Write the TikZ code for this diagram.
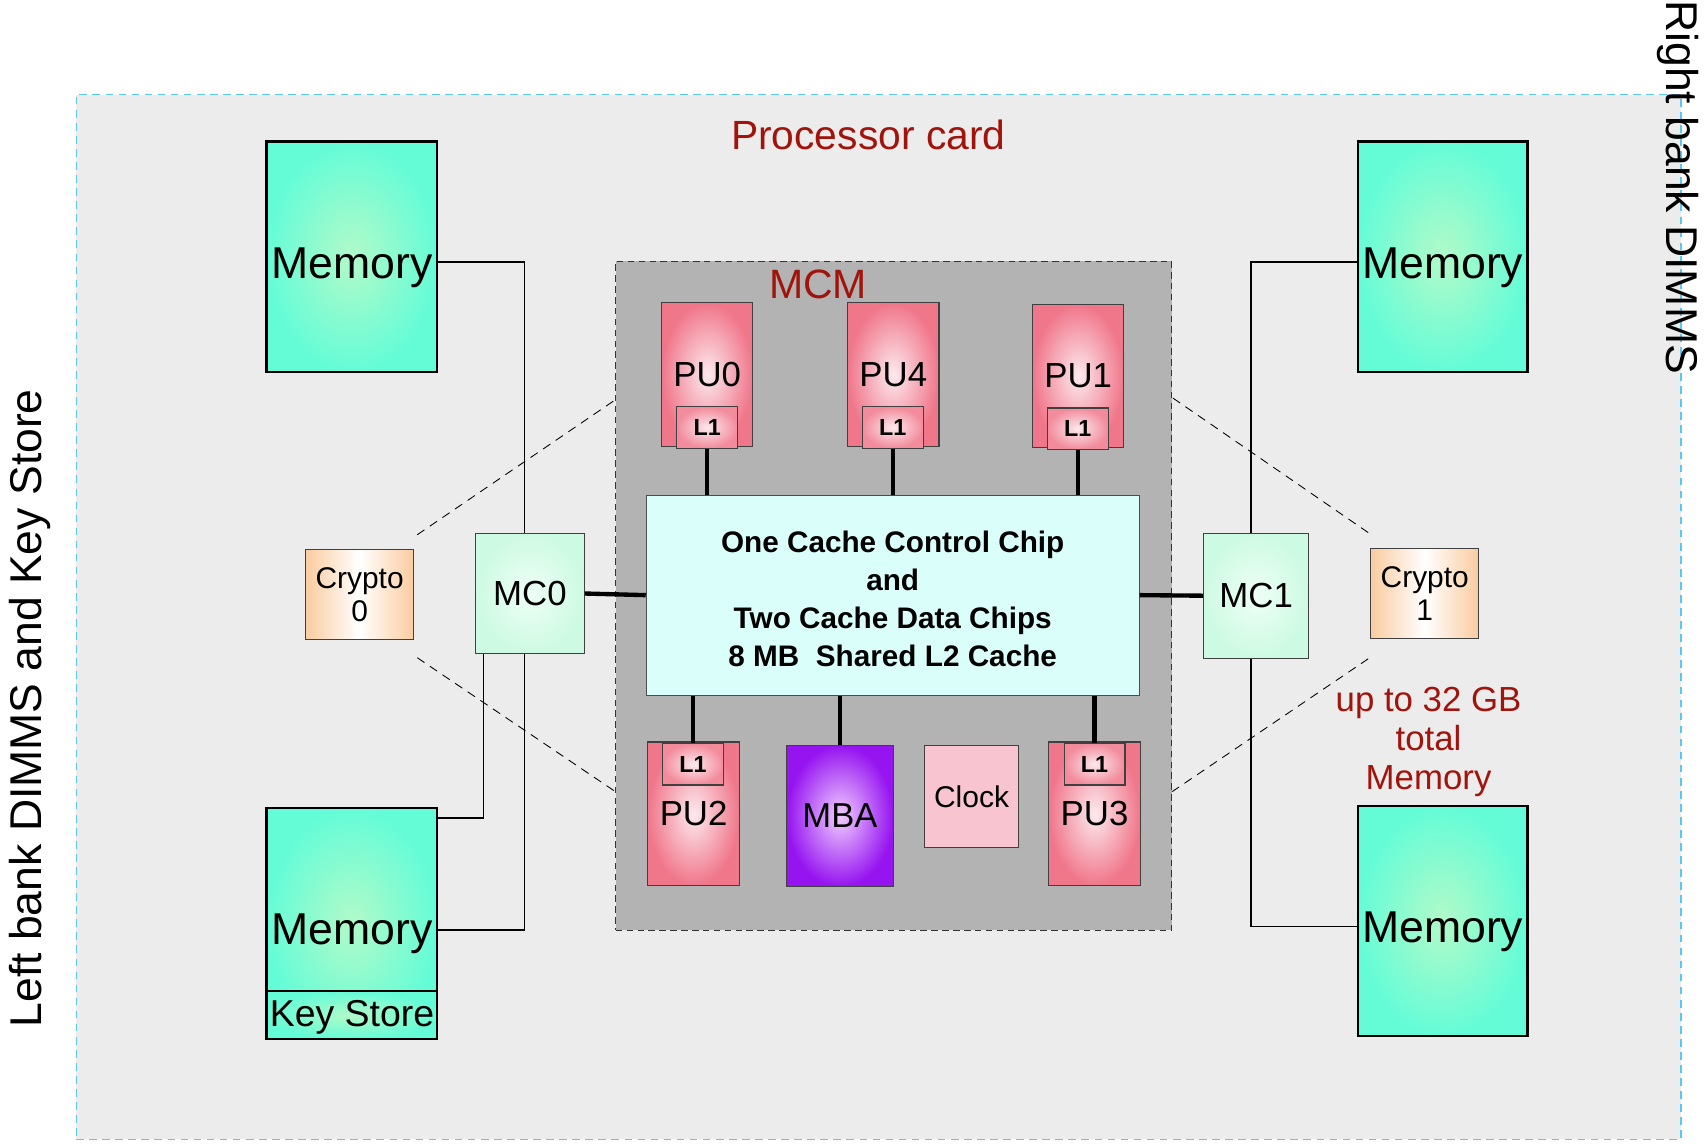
\documentclass[tikz,border=0pt]{standalone}
\usepackage{fontspec}
\setmainfont{Liberation Sans}

\definecolor{cardred}{RGB}{160,20,12}
\definecolor{cardbg}{RGB}{236,236,236}
\definecolor{cardedge}{RGB}{90,200,245}
\definecolor{mcmgray}{RGB}{179,179,179}
\definecolor{memin}{RGB}{178,250,200}
\definecolor{memout}{RGB}{100,252,215}
\definecolor{puin}{RGB}{252,234,238}
\definecolor{puout}{RGB}{240,118,138}
\definecolor{mbain}{RGB}{240,205,255}
\definecolor{mbaout}{RGB}{150,20,240}
\definecolor{peach}{RGB}{250,204,160}
\definecolor{mcin}{RGB}{238,255,246}
\definecolor{mcout}{RGB}{205,250,226}
\definecolor{cachefill}{RGB}{218,255,250}
\definecolor{clockfill}{RGB}{248,196,208}

\tikzset{
  box/.style={draw=black!75, line width=1pt, inner sep=0pt, align=center},
  memtext/.style={font=\fontsize{41}{45}\selectfont, text height=45pt, text depth=5.6pt},
  memory/.style={box, draw=black, line width=2pt, inner color=memin, outer color=memout,
    minimum width=157pt, memtext},
  pu/.style={box, inner color=puin, outer color=puout, minimum width=84pt,
    minimum height=132pt, font=\fontsize{32}{36}\selectfont},
  l1box/.style={box, inner color=puin, outer color=puout!85, minimum width=56pt,
    minimum height=38pt, font=\bfseries\fontsize{21.4}{24}\selectfont},
  mc/.style={box, inner color=mcin, outer color=mcout, font=\fontsize{32}{36}\selectfont},
  crypto/.style={box, left color=peach, right color=peach, middle color=white,
    minimum width=99pt, minimum height=83pt, font=\fontsize{27.5}{31}\selectfont},
  redtext/.style={text=cardred, align=center},
  wire/.style={line width=1.6pt},
  bus/.style={line width=4pt},
  zoomline/.style={line width=0.8pt, dash pattern=on 8pt off 6pt},
}

\begin{document}
\begin{tikzpicture}[x=1pt, y=-1pt]
    \useasboundingbox (0,0) rectangle (1568,1051);

    % --- PROCESSOR CARD ---
    \node[draw=cardedge, line width=1pt, dash pattern=on 7pt off 5pt, fill=cardbg,
          minimum width=1475pt, minimum height=960pt] (card) at (807.5,567) {};
    \node[redtext, font=\fontsize{37.5}{40}\selectfont] (cardlbl) at (798,124) {Processor card};

    % --- MCM ---
    \node[draw=black!80, line width=1pt, dash pattern=on 6pt off 4pt, fill=mcmgray,
          minimum width=511pt, minimum height=615pt] (mcm) at (821.5,547.5) {};
    \node[redtext, font=\fontsize{37.7}{40}\selectfont] (mcmlbl) at (752,261) {MCM};

    % top row of processor units
    \node[pu] (pu0) at (650,344) {PU0};
    \node[pu] (pu4) at (821,344) {PU4};
    \node[pu] (pu1) at (991,345.5) {PU1};
    \node[l1box] (pu0l1) at (650,393) {L1};
    \node[l1box] (pu4l1) at (820.5,393) {L1};
    \node[l1box] (pu1l1) at (990.5,394) {L1};

    % shared cache
    \node[box, draw=black!70, fill=cachefill, minimum width=453pt, minimum height=184pt,
          font=\bfseries\fontsize{27.3}{35}\selectfont] (cache) at (820.5,547)
          {\\[-9pt]One Cache Control Chip\\and\\Two Cache Data Chips\\8 MB\ \ Shared L2 Cache};

    % bottom row
    \node[pu] (pu2) at (637.5,748) {PU2};
    \node[pu] (pu3) at (1006,748) {PU3};
    \node[l1box] (pu2l1) at (637,702.5) {L1};
    \node[l1box] (pu3l1) at (1006,702.5) {L1};
    \node[box, inner color=mbain, outer color=mbaout, minimum width=98pt, minimum height=130pt,
          font=\fontsize{31.8}{36}\selectfont] (mba) at (772,750) {MBA};
    \node[box, fill=clockfill, minimum width=86pt, minimum height=94pt,
          font=\fontsize{27.6}{31}\selectfont] (clock) at (893,732) {Clock};

    % --- MEMORY CONTROLLERS AND CRYPTO ---
    \node[mc, minimum width=100pt, minimum height=111pt] (mc0) at (487,545.5) {MC0};
    \node[mc, minimum width=97pt, minimum height=115pt] (mc1) at (1154.5,547.5) {MC1};
    \node[crypto] (crypto0) at (330.5,546.5) {Crypto\\0};
    \node[crypto] (crypto1) at (1309.5,545.5) {Crypto\\1};

    % --- MEMORY DIMMS ---
    \node[memory, minimum height=212pt] (memTL) at (323.5,236) {Memory};
    \node[memory, minimum width=156pt, minimum height=212pt] (memTR) at (1326,236) {Memory};
    \node[memory, minimum height=212pt] (memBL) at (323.5,849) {};
    \node[memtext] (memBLtxt) at (323.5,848) {Memory};
    \node[memory, minimum height=44pt, font=\fontsize{34.4}{38}\selectfont,
          text height=26pt, text depth=5pt] (keystore) at (323.5,933) {Key Store};
    \node[memory, minimum width=156pt, minimum height=211pt] (memBR) at (1326,846.5) {Memory};
    \node[redtext, font=\fontsize{32}{36}\selectfont] (memlbl) at (1313,682) {up to 32 GB\\total\\Memory};

    % --- SIDE LABELS ---
    \node[rotate=90, font=\fontsize{40.9}{44}\selectfont] (leftlbl) at (28,651) {Left bank DIMMS and Key Store};
    \node[rotate=-90, font=\fontsize{40.9}{44}\selectfont] (rightlbl) at (1542,172) {Right bank DIMMS};

    % --- ZOOM GUIDES ---
    \draw[zoomline] ([shift={(3pt,13pt)}]crypto0.north east) -- ([yshift=-128pt]mcm.north west);
    \draw[zoomline] ([shift={(3pt,-16pt)}]crypto0.south east) -- ([yshift=128pt]mcm.south west);
    \draw[zoomline] ([shift={(-2pt,14pt)}]crypto1.north west) -- ([yshift=-126pt]mcm.north east);
    \draw[zoomline] ([shift={(-2pt,-18pt)}]crypto1.south west) -- ([yshift=128pt]mcm.south east);

    % --- MEMORY WIRING ---
    \draw[wire] ([yshift=-5pt]memTL.east) -| ([xshift=-5pt]mc0.north);
    \draw[wire] ([xshift=-5pt]mc0.south) |- ([yshift=-6pt]memBL.east);
    \draw[wire] ([xshift=8pt]mc0.south west) |- ([yshift=-10pt]memBL.north east);
    \draw[wire] ([yshift=-5pt]memTR.west) -| ([xshift=-5pt]mc1.north);
    \draw[wire] ([xshift=-5pt]mc1.south) |- ([yshift=-5pt]memBR.west);

    % --- CHIP BUSES ---
    \draw[bus] (mc0.east) -- (cache.west);
    \draw[bus] (cache.east) -- (mc1.west);
    \draw[bus] (pu0l1.south) -- (pu0l1.south |- cache.north);
    \draw[bus] (pu4l1.south) -- (pu4l1.south |- cache.north);
    \draw[bus] (pu1l1.south) -- (pu1l1.south |- cache.north);
    \draw[bus] (pu2l1.north |- cache.south) -- (pu2l1.north);
    \draw[bus] (mba.north |- cache.south) -- (mba.north);
    \draw[bus] (pu3l1.north |- cache.south) -- (pu3l1.north);

\end{tikzpicture}
\end{document}
